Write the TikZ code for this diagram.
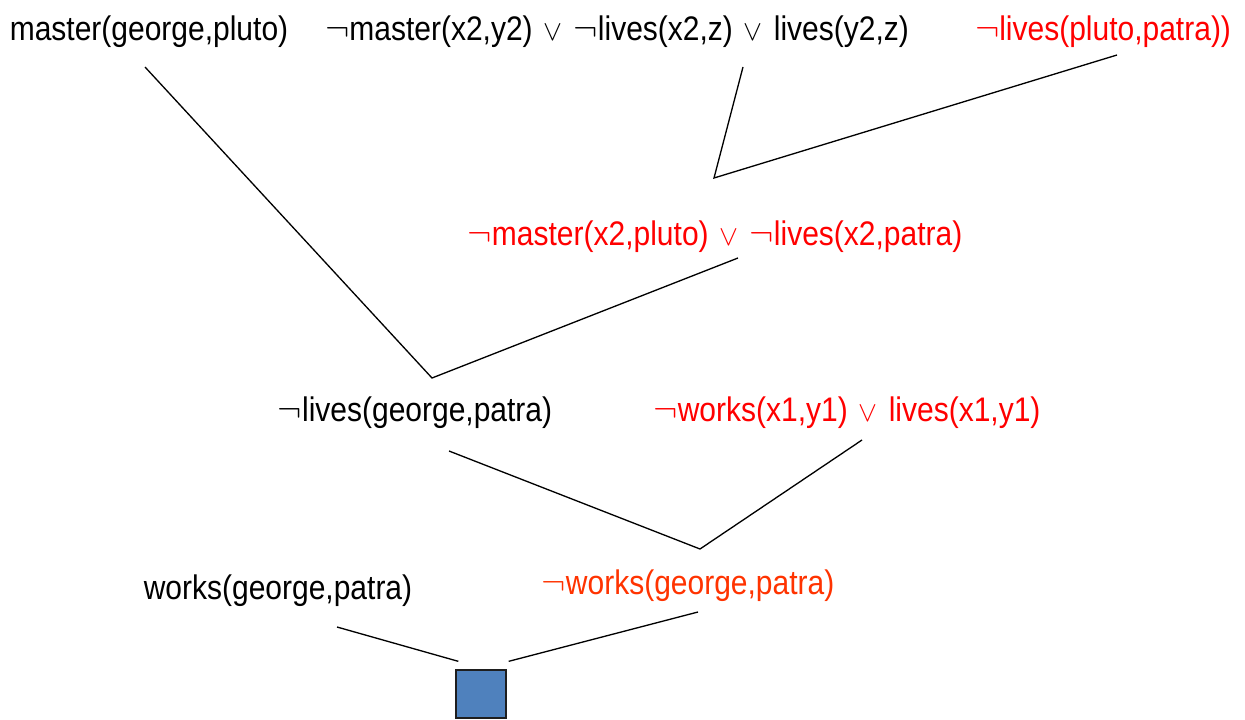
\documentclass[tikz,border=0pt]{standalone}
\usepackage{fontspec}
\setmainfont{Liberation Sans}[FakeStretch=0.88]
\usepackage{xcolor}
\usepackage{tikz}
\usetikzlibrary{calc}
\definecolor{resred}{RGB}{255,0,0}
\definecolor{resorange}{RGB}{255,51,0}
\definecolor{boxblue}{RGB}{79,129,189}
\definecolor{boxedge}{RGB}{30,30,30}
\newlength{\orwd}
\newcommand{\orr}{\settowidth{\orwd}{$\vee$}\makebox[\orwd]{\scalebox{0.78}{$\vee$}}}

\begin{document}
\begin{tikzpicture}[x=0.02cm, y=-0.02cm]
  \tikzstyle{clause} = [inner sep=0pt, anchor=center, font=\fontsize{19.4}{23}\selectfont, text=black]
  \tikzstyle{given} = [clause, text=resred]
  \tikzstyle{goal} = [clause, text=resorange]
  \tikzstyle{link} = [line width=0.75pt, black]
  \tikzstyle{empty} = [rectangle, draw=boxedge, fill=boxblue, line width=0.75pt, minimum width=1cm, minimum height=0.96cm, inner sep=0pt]

  \useasboundingbox (0,0) rectangle (1245,720);

  % Row 1: clauses
  \node [clause] (mgp) at (149,32) {master(george,pluto)};
  \node [clause] (rule2) at (617,32) {$\neg$master(x2,y2) \orr{} $\neg$lives(x2,z) \orr{} lives(y2,z)};
  \node [given] (nlpp) at (1103,32) {$\neg$lives(pluto,patra))};

  % Row 2: first resolvent
  \node [given] (res1) at (715,237) {$\neg$master(x2,pluto) \orr{} $\neg$lives(x2,patra)};

  % Row 3
  \node [clause] (nlgp) at (415,413) {$\neg$lives(george,patra)};
  \node [given] (rule1) at (847,413) {$\neg$works(x1,y1) \orr{} lives(x1,y1)};

  % Row 4
  \node [clause] (wgp) at (278,591) {works(george,patra)};
  \node [goal] (nwgp) at (688,586) {$\neg$works(george,patra)};

  % empty clause
  \node [empty] (nil) at (481,694) {};

  % junctions
  \coordinate (j1) at (714,178);
  \coordinate (j2) at (432,378);
  \coordinate (j3) at (700,549);

  % Resolution steps
  \draw [link] ($(rule2)+(126,35)$) -- (j1) -- ($(nlpp)+(14,23)$);
  \draw [link] ($(mgp)+(-4,35)$) -- (j2) -- ($(res1)+(23,21)$);
  \draw [link] ($(nlgp)+(34,38)$) -- (j3) -- ($(rule1)+(15,27)$);
  \draw [link] ($(wgp)+(59,36)$) -- ($(nil.north west)+(3,-8)$);
  \draw [link] ($(nwgp)+(10,26)$) -- ($(nil.north east)+(2,-8)$);
\end{tikzpicture}
\end{document}
